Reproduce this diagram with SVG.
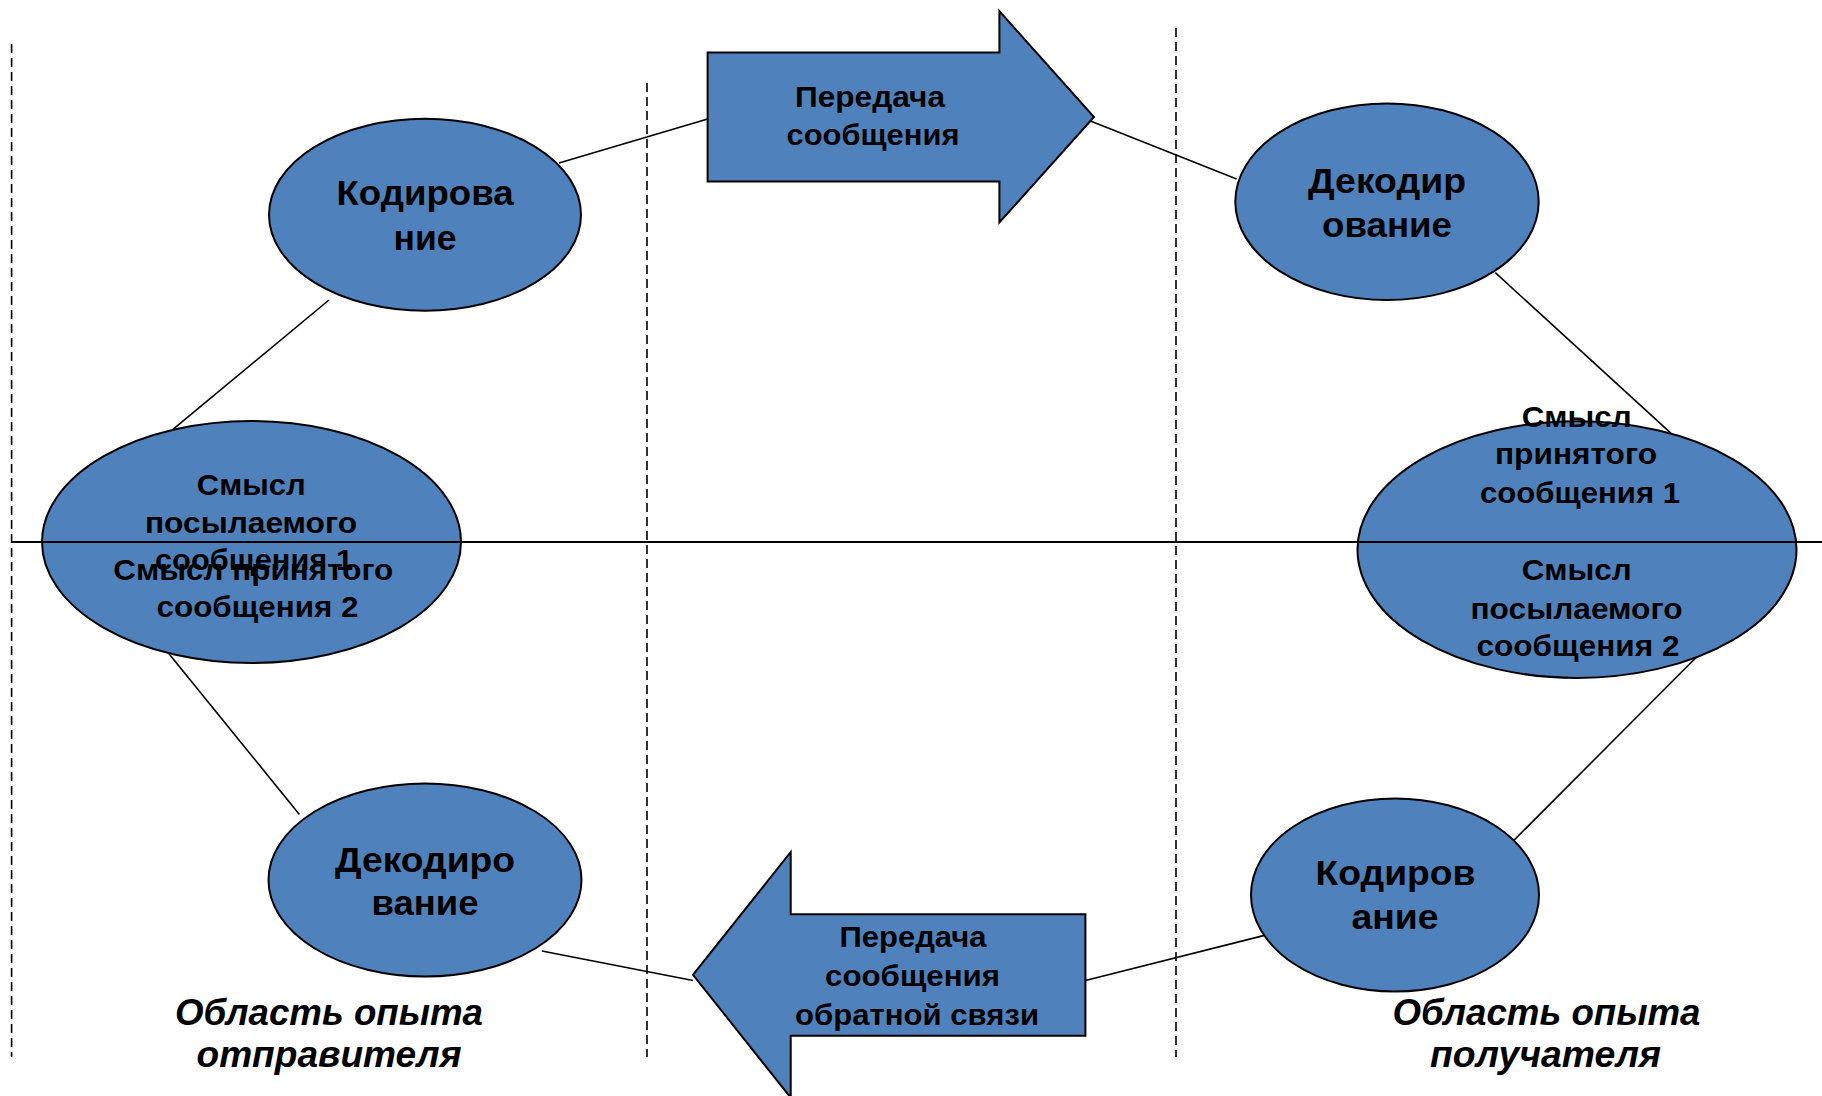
<svg xmlns="http://www.w3.org/2000/svg" width="1822" height="1096" viewBox="0 0 1822 1096">
<style>
.shape{fill:#4F81BD;stroke:#000;stroke-width:2}
.con{stroke:#000;stroke-width:1.6;fill:none}
.dash{stroke:#000;stroke-width:1.6;stroke-dasharray:9 5;fill:none}
.axis{stroke:#000;stroke-width:2;fill:none}
.big{font-family:"Liberation Sans",Arial,sans-serif;font-weight:bold;font-size:35px;text-anchor:middle;fill:#000}
.mid{font-family:"Liberation Sans",Arial,sans-serif;font-weight:bold;font-size:30px;text-anchor:middle;fill:#000}
.arr{font-family:"Liberation Sans",Arial,sans-serif;font-weight:bold;font-size:30px;text-anchor:middle;fill:#000}
.ital{font-family:"Liberation Sans",Arial,sans-serif;font-weight:bold;font-style:italic;font-size:37px;text-anchor:middle;fill:#000}
</style>
<rect width="1822" height="1096" fill="#fff"/>
<g id="dividers">
<line class="dash" x1="11.6" y1="44" x2="11.6" y2="1057"/>
<line class="dash" x1="647" y1="83" x2="647" y2="1057"/>
<line class="dash" x1="1176" y1="28" x2="1176" y2="1057"/>
</g>
<g id="connectors">
<line class="con" x1="559" y1="163" x2="707.6" y2="119"/>
<line class="con" x1="329" y1="300" x2="164.5" y2="436.4"/>
<line class="con" x1="1085.4" y1="119" x2="1236.6" y2="179"/>
<line class="con" x1="1495.3" y1="272.7" x2="1674.4" y2="436.4"/>
<line class="con" x1="1705.8" y1="647.7" x2="1509.8" y2="844.5"/>
<line class="con" x1="1264.5" y1="935.4" x2="1085.4" y2="980.5"/>
<line class="con" x1="693" y1="980.5" x2="541.9" y2="951"/>
<line class="con" x1="299.4" y1="814.4" x2="164.5" y2="648.3"/>
</g>
<g id="arrow-send">
<path class="shape" d="M707.6,52.4 H999.4 V11.2 L1094,117 L999.4,222.5 V181.6 H707.6 Z"/>
<text class="arr" x="870" y="107" textLength="150" lengthAdjust="spacingAndGlyphs">Передача</text>
<text class="arr" x="873" y="145" textLength="173" lengthAdjust="spacingAndGlyphs">сообщения</text>
</g>
<g id="arrow-feedback">
<path class="shape" d="M1085.4,914.2 H790.7 V852 L693,974.8 L790.7,1097.6 V1035.8 H1085.4 Z"/>
<text class="arr" x="913" y="946.5" textLength="147" lengthAdjust="spacingAndGlyphs">Передача</text>
<text class="arr" x="912.5" y="986" textLength="175" lengthAdjust="spacingAndGlyphs">сообщения</text>
<text class="arr" x="917" y="1025" textLength="244" lengthAdjust="spacingAndGlyphs">обратной связи</text>
</g>
<g id="encode-sender">
<ellipse class="shape" cx="425" cy="214.7" rx="156" ry="96"/>
<text class="big" x="425" y="205" textLength="177" lengthAdjust="spacingAndGlyphs">Кодирова</text>
<text class="big" x="425" y="250" textLength="63" lengthAdjust="spacingAndGlyphs">ние</text>
</g>
<g id="meaning-sender">
<ellipse class="shape" cx="251.5" cy="542" rx="209.5" ry="121"/>
</g>
<g id="decode-sender">
<ellipse class="shape" cx="425" cy="880" rx="156.5" ry="96.5"/>
<text class="big" x="425" y="872" textLength="180" lengthAdjust="spacingAndGlyphs">Декодиро</text>
<text class="big" x="425" y="915" textLength="107" lengthAdjust="spacingAndGlyphs">вание</text>
</g>
<g id="decode-receiver">
<ellipse class="shape" cx="1387" cy="201.7" rx="151.7" ry="98.3"/>
<text class="big" x="1387" y="193" textLength="158" lengthAdjust="spacingAndGlyphs">Декодир</text>
<text class="big" x="1387" y="237" textLength="130" lengthAdjust="spacingAndGlyphs">ование</text>
</g>
<g id="meaning-receiver">
<ellipse class="shape" cx="1577" cy="549.6" rx="219.5" ry="128.3"/>
</g>
<g id="encode-receiver">
<ellipse class="shape" cx="1395" cy="895" rx="144" ry="96.5"/>
<text class="big" x="1395.5" y="885" textLength="160" lengthAdjust="spacingAndGlyphs">Кодиров</text>
<text class="big" x="1395" y="929" textLength="87" lengthAdjust="spacingAndGlyphs">ание</text>
</g>
<g id="axis">
<line class="axis" x1="12" y1="542" x2="1822" y2="542"/>
</g>
<g id="meaning-sender-text">
<text class="mid" x="251.3" y="495" textLength="109" lengthAdjust="spacingAndGlyphs">Смысл</text>
<text class="mid" x="251" y="533" textLength="212" lengthAdjust="spacingAndGlyphs">посылаемого</text>
<text class="mid" x="254" y="570" textLength="198" lengthAdjust="spacingAndGlyphs">сообщения 1</text>
<text class="mid" x="253.3" y="580" textLength="280" lengthAdjust="spacingAndGlyphs">Смысл принятого</text>
<text class="mid" x="257.5" y="617" textLength="202" lengthAdjust="spacingAndGlyphs">сообщения 2</text>
</g>
<g id="meaning-receiver-text">
<text class="mid" x="1576.7" y="426.5" textLength="110" lengthAdjust="spacingAndGlyphs">Смысл</text>
<text class="mid" x="1576" y="464" textLength="162" lengthAdjust="spacingAndGlyphs">принятого</text>
<text class="mid" x="1580" y="503" textLength="200" lengthAdjust="spacingAndGlyphs">сообщения 1</text>
<text class="mid" x="1576.7" y="580" textLength="110" lengthAdjust="spacingAndGlyphs">Смысл</text>
<text class="mid" x="1576.5" y="618.5" textLength="212" lengthAdjust="spacingAndGlyphs">посылаемого</text>
<text class="mid" x="1578" y="656" textLength="203" lengthAdjust="spacingAndGlyphs">сообщения 2</text>
</g>
<g id="label-sender">
<text class="ital" x="329" y="1025" textLength="308" lengthAdjust="spacingAndGlyphs">Область опыта</text>
<text class="ital" x="329" y="1067" textLength="265" lengthAdjust="spacingAndGlyphs">отправителя</text>
</g>
<g id="label-receiver">
<text class="ital" x="1546.5" y="1025" textLength="308" lengthAdjust="spacingAndGlyphs">Область опыта</text>
<text class="ital" x="1545.5" y="1067" textLength="231" lengthAdjust="spacingAndGlyphs">получателя</text>
</g>
</svg>
